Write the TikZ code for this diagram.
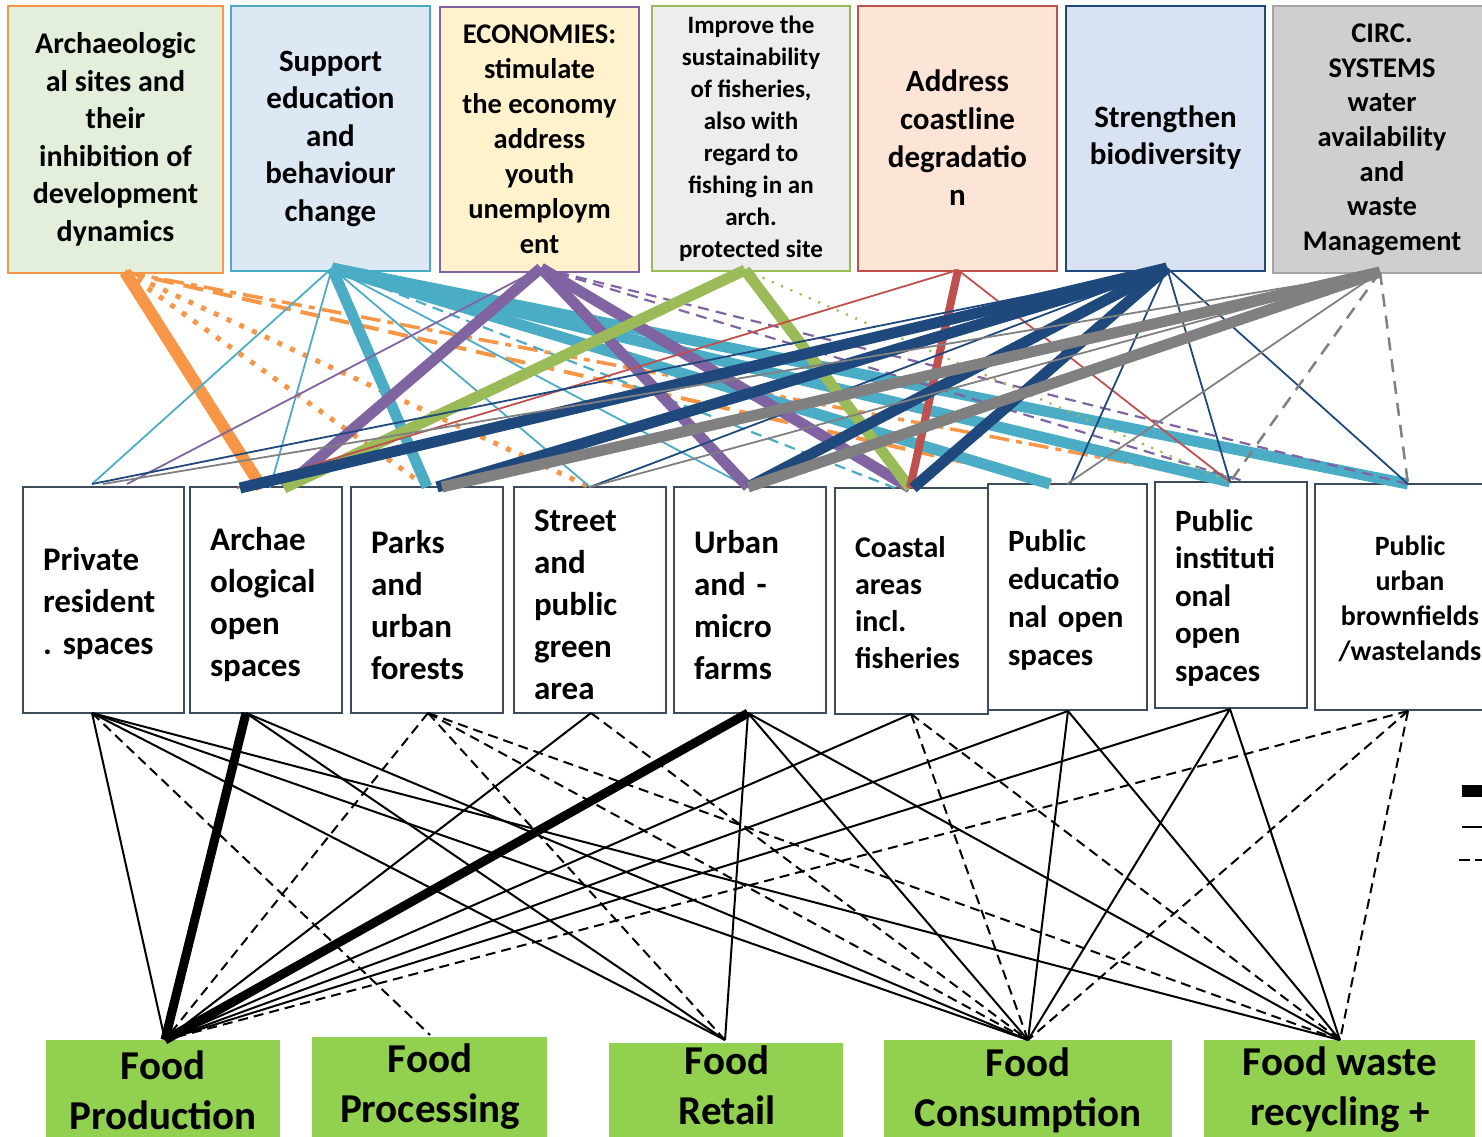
\documentclass[tikz,border=0pt]{standalone}
\usepackage{fontspec}
\setmainfont{Carlito}
\usetikzlibrary{calc}
\definecolor{cOr}{HTML}{F79646}
\definecolor{cCy}{HTML}{4BACC6}
\definecolor{cPu}{HTML}{8064A2}
\definecolor{cGr}{HTML}{9BBB59}
\definecolor{cRe}{HTML}{C0504D}
\definecolor{cDb}{HTML}{1F497D}
\definecolor{cGy}{HTML}{808080}
\definecolor{cGyB}{HTML}{A5A5A5}
\definecolor{fT1}{HTML}{E3EFDA}
\definecolor{fT2}{HTML}{DCE8F4}
\definecolor{fT3}{HTML}{FFF2CC}
\definecolor{fT4}{HTML}{EDEDED}
\definecolor{fT5}{HTML}{FCE4D6}
\definecolor{fT6}{HTML}{D9E2F3}
\definecolor{fT7}{HTML}{D0CECE}
\definecolor{cBox}{HTML}{3D4B5C}
\definecolor{cFood}{HTML}{92D050}
\frenchspacing
\begin{document}
\begin{tikzpicture}[x=1pt,y=-1pt,
  tb/.style={rectangle, line width=2pt, align=center, inner sep=0pt},
  mb/.style={rectangle, draw=cBox, line width=2pt, fill=white, inner sep=0pt, minimum height=226pt},
  mt/.style={align=left, inner sep=0pt},
  bb/.style={rectangle, fill=cFood, inner sep=0pt, anchor=north},
  bt/.style={align=center, inner sep=0pt, font=\fontsize{41}{50}\selectfont\bfseries},
  thk/.style={line width=11pt},
  thn/.style={line width=1.8pt},
  cdsh/.style={line width=2.2pt, dash pattern=on 11pt off 7pt},
  odot/.style={line width=5pt, dash pattern=on 5pt off 9pt},
  blk/.style={line width=2pt},
  bthk/.style={line width=9pt},
  bdsh/.style={line width=2pt, dash pattern=on 10pt off 6pt}
]
\useasboundingbox (0,0) rectangle (1482,1136);
\clip (0,0) rectangle (1482,1136);

% ---------- top boxes ----------
\node[tb, draw=cOr, fill=fT1, minimum width=215pt, minimum height=267pt, font=\fontsize{30}{37.5}\selectfont\bfseries] (t1) at (115.5,139.5) {Archaeologic\\al sites and\\their\\inhibition of\\development\\dynamics};
\node[tb, draw=cCy, fill=fT2, minimum width=199pt, minimum height=265pt, font=\fontsize{31}{37.5}\selectfont\bfseries] (t2) at (330.5,138.5) {Support\\education\\and\\behaviour\\change};
\node[tb, draw=cPu, fill=fT3, minimum width=199pt, minimum height=265pt, font=\fontsize{28.5}{35}\selectfont\bfseries] (t3) at (539.5,139) {ECONOMIES:\\stimulate\\the economy\\address\\youth\\unemploym\\ent};
\node[tb, draw=cGr, fill=fT4, minimum width=198pt, minimum height=265pt, font=\fontsize{25}{32}\selectfont\bfseries] (t4) at (751,138.5) {Improve the\\sustainability\\of fisheries,\\also with\\regard to\\fishing in an\\arch.\\protected site};
\node[tb, draw=cRe, fill=fT5, minimum width=199pt, minimum height=265pt, font=\fontsize{31}{38}\selectfont\bfseries] (t5) at (957.5,138) {Address\\coastline\\degradatio\\n};
\node[tb, draw=cDb, fill=fT6, minimum width=199pt, minimum height=265pt, font=\fontsize{31}{37}\selectfont\bfseries] (t6) at (1165.5,138) {Strengthen\\biodiversity};
\node[tb, draw=cGyB, fill=fT7, minimum width=218pt, minimum height=267pt, font=\fontsize{28.5}{34.7}\selectfont\bfseries] (t7) at (1382,139.5) {CIRC.\\SYSTEMS\\water\\availability\\and\\waste\\Management};

% ---------- middle boxes ----------
\node[mb, minimum width=161pt] (m1) at (103.5,599.5) {};
\node[mb, minimum width=152pt] (m2) at (266,600) {};
\node[mb, minimum width=152pt] (m3) at (427,600) {};
\node[mb, minimum width=152pt] (m4) at (590,600) {};
\node[mb, minimum width=152pt] (m5) at (750,600) {};
\node[mb, minimum width=153pt] (m6) at (911.5,601) {};
\node[mb, minimum width=159pt] (m7) at (1067.5,597) {};
\node[mb, minimum width=152pt] (m8) at (1231,595) {};
\node[mb, minimum width=190pt] (m9) at (1410,597) {};

\node[mt, text width=121pt, font=\fontsize{33}{42}\selectfont\bfseries] (m1t) at (103.5,604) {Private\\resident\\. spaces};
\node[mt, text width=112pt, font=\fontsize{33}{42}\selectfont\bfseries] (m2t) at (266,605) {Archae\\ological\\open\\spaces};
\node[mt, text width=112pt, font=\fontsize{33}{42}\selectfont\bfseries] (m3t) at (427,605) {Parks\\and\\urban\\forests};
\node[mt, text width=112pt, font=\fontsize{33}{42}\selectfont\bfseries] (m4t) at (590,605) {Street\\and\\public\\green\\area};
\node[mt, text width=112pt, font=\fontsize{33}{42}\selectfont\bfseries] (m5t) at (750,605) {Urban\\and -\\micro\\farms};
\node[mt, text width=113pt, font=\fontsize{30}{37}\selectfont\bfseries] (m6t) at (911.5,603) {Coastal\\areas\\incl.\\fisheries};
\node[mt, text width=119pt, font=\fontsize{31}{38}\selectfont\bfseries] (m7t) at (1067.5,600) {Public\\educatio\\nal open\\spaces};
\node[mt, text width=112pt, font=\fontsize{31}{37.5}\selectfont\bfseries] (m8t) at (1231,598) {Public\\instituti\\onal\\open\\spaces};
\node[mt, align=center, text width=150pt, font=\fontsize{28}{35}\selectfont\bfseries] (m9t) at (1410,599) {Public\\urban\\brownfields\\/wastelands};

% ---------- bottom boxes ----------
\node[bb, minimum width=234pt, minimum height=120pt] (b1) at (163,1040) {};
\node[bb, minimum width=235pt, minimum height=120pt] (b2) at (429.5,1037) {};
\node[bb, minimum width=234pt, minimum height=120pt] (b3) at (726,1043) {};
\node[bb, minimum width=288pt, minimum height=120pt] (b4) at (1028,1040) {};
\node[bb, minimum width=271pt, minimum height=120pt] (b5) at (1339.5,1040) {};
\node[bt] (b1t) at (163,1090) {Food\\Production};
\node[bt] (b2t) at (430,1087) {Food\\Processing};
\node[bt] (b3t) at (727,1085) {Food\\Retail};
\node[bt] (b4t) at (1028,1090) {Food\\Consumption};
\node[bt] (b5t) at (1340,1090) {Food waste\\recycling +};

% ---------- anchor points ----------
\coordinate (t1a) at (125,272);
\coordinate (t2a) at (332,268);
\coordinate (t3a) at (541,268);
\coordinate (t4a) at (745,270);
\coordinate (t5a) at (958,270);
\coordinate (t6a) at (1167,268);
\coordinate (t7a) at (1380,272);

\coordinate (m1a) at (92,484);
\coordinate (m2a) at (262,488);
\coordinate (m3a) at (427,487);
\coordinate (m4a) at (590,487);
\coordinate (m5a) at (748,487);
\coordinate (m6a) at (910,488);
\coordinate (m7a) at (1060,484);
\coordinate (m8a) at (1230,482);
\coordinate (m9a) at (1408,484);

\coordinate (m1b) at (92,713);
\coordinate (m2b) at (246,713);
\coordinate (m3b) at (428,713);
\coordinate (m4b) at (591,713);
\coordinate (m5b) at (748,713);
\coordinate (m6b) at (911,714);
\coordinate (m7b) at (1068,711);
\coordinate (m8b) at (1230,709);
\coordinate (m9b) at (1408,711);

\coordinate (b1a) at (165,1040);
\coordinate (b2a) at (430,1035);
\coordinate (b3a) at (725,1040);
\coordinate (b4a) at (1028,1040);
\coordinate (b5a) at (1340,1040);

% ---------- orange ----------
\begin{scope}[draw=cOr]
\draw[line width=12pt] (t1a) -- (m2a);
\draw[odot] (t1a) -- (m3a);
\draw[odot] (t1a) -- (m4a);
\draw[line width=4pt, dash pattern=on 20pt off 10pt] (t1a) -- (m7a);
\draw[line width=3.5pt, dash pattern=on 20pt off 7pt on 6pt off 7pt] (t1a) -- (m8a);
\end{scope}
% ---------- cyan ----------
\begin{scope}[draw=cCy]
\draw[thn] (t2a) -- (m1a);
\draw[thn] (t2a) -- ($(m2a)+(8,0)$);
\draw[thk] (t2a) -- (m3a);
\draw[thn] (t2a) -- (m4a);
\draw[thn] (t2a) -- (m5a);
\draw[cdsh] (t2a) -- ($(m6a)+(-15,0)$);
\draw[thk] (t2a) -- ($(m7a)+(-10,0)$);
\draw[thk] (t2a) -- (m8a);
\draw[thk] (t2a) -- (m9a);
\end{scope}
% ---------- purple ----------
\begin{scope}[draw=cPu]
\draw[thn] (t3a) -- ($(m1a)+(35,0)$);
\draw[thk] (t3a) -- ($(m2a)+(22,0)$);
\draw[thk] (t3a) -- (m5a);
\draw[thk] (t3a) -- (m6a);
\draw[cdsh] (t3a) -- ($(m8a)+(17,0)$);
\draw[cdsh] (t3a) -- (m9a);
\end{scope}
% ---------- green ----------
\begin{scope}[draw=cGr]
\draw[thk] (t4a) -- ($(m2a)+(22,0)$);
\draw[thk] (t4a) -- (m6a);
\draw[line width=3pt, line cap=round, dash pattern=on 0.1pt off 10pt] (t4a) -- (m8a);
\end{scope}
% ---------- red ----------
\begin{scope}[draw=cRe]
\draw[thn] (t5a) -- ($(m2a)+(-25,0)$);
\draw[line width=8pt] (t5a) -- (m6a);
\draw[thn] (t5a) -- (m8a);
\end{scope}
% ---------- dark blue ----------
\begin{scope}[draw=cDb]
\draw[thn] (t6a) -- (m1a);
\draw[thk] (t6a) -- ($(m2a)+(-22,0)$);
\draw[thk] (t6a) -- ($(m3a)+(10,0)$);
\draw[thn] (t6a) -- (m4a);
\draw[thk] (t6a) -- (m5a);
\draw[thk] (t6a) -- ($(m6a)+(3,0)$);
\draw[thn] (t6a) -- ($(m7a)+(10,0)$);
\draw[thn] (t6a) -- (m8a);
\draw[thn] (t6a) -- (m9a);
\end{scope}
% ---------- gray ----------
\begin{scope}[draw=cGy]
\draw[thn] (t7a) -- ($(m1a)+(11,0)$);
\draw[thk] (t7a) -- ($(m3a)+(15,0)$);
\draw[thn] (t7a) -- (m4a);
\draw[thk] (t7a) -- (m5a);
\draw[thn] (t7a) -- ($(m7a)+(7,0)$);
\draw[line width=2.5pt, dash pattern=on 13pt off 9pt] (t7a) -- (m8a);
\draw[line width=2.5pt, dash pattern=on 13pt off 9pt] (t7a) -- (m9a);
\end{scope}

% ---------- black lower connectors ----------
\draw[blk] (m1b) -- (b1a);
\draw[bdsh] (m1b) -- (b2a);
\draw[blk] (m1b) -- (b3a);
\draw[blk] (m1b) -- (b4a);
\draw[blk] (m1b) -- (b5a);
\draw[bthk] (m2b) -- (b1a);
\draw[blk] (m2b) -- (b3a);
\draw[blk] (m2b) -- (b4a);
\draw[bdsh] (m3b) -- (b1a);
\draw[bdsh] (m3b) -- (b3a);
\draw[bdsh] (m3b) -- (b4a);
\draw[bdsh] (m3b) -- (b5a);
\draw[blk] (m4b) -- (b1a);
\draw[bdsh] (m4b) -- (b4a);
\draw[bthk] (m5b) -- (b1a);
\draw[blk] (m5b) -- (b3a);
\draw[blk] (m5b) -- (b4a);
\draw[blk] (m5b) -- (b5a);
\draw[blk] (m6b) -- (b1a);
\draw[bdsh] (m6b) -- (b4a);
\draw[bdsh] (m6b) -- (b5a);
\draw[blk] (m7b) -- (b1a);
\draw[blk] (m7b) -- (b4a);
\draw[blk] (m7b) -- (b5a);
\draw[blk] (m8b) -- (b1a);
\draw[blk] (m8b) -- (b4a);
\draw[blk] (m8b) -- (b5a);
\draw[bdsh] (m9b) -- (b1a);
\draw[bdsh] (m9b) -- (b4a);
\draw[bdsh] (m9b) -- (b5a);

% ---------- legend (cut off at the right edge) ----------
\coordinate (lg1a) at (1462,791);
\coordinate (lg1b) at (1495,791);
\coordinate (lg2a) at (1462,827);
\coordinate (lg2b) at (1495,827);
\coordinate (lg3a) at (1459,860);
\coordinate (lg3b) at (1495,860);
\draw[line width=12pt] (lg1a) -- (lg1b);
\draw[blk] (lg2a) -- (lg2b);
\draw[line width=2pt, dash pattern=on 11pt off 5pt] (lg3a) -- (lg3b);
\end{tikzpicture}
\end{document}
